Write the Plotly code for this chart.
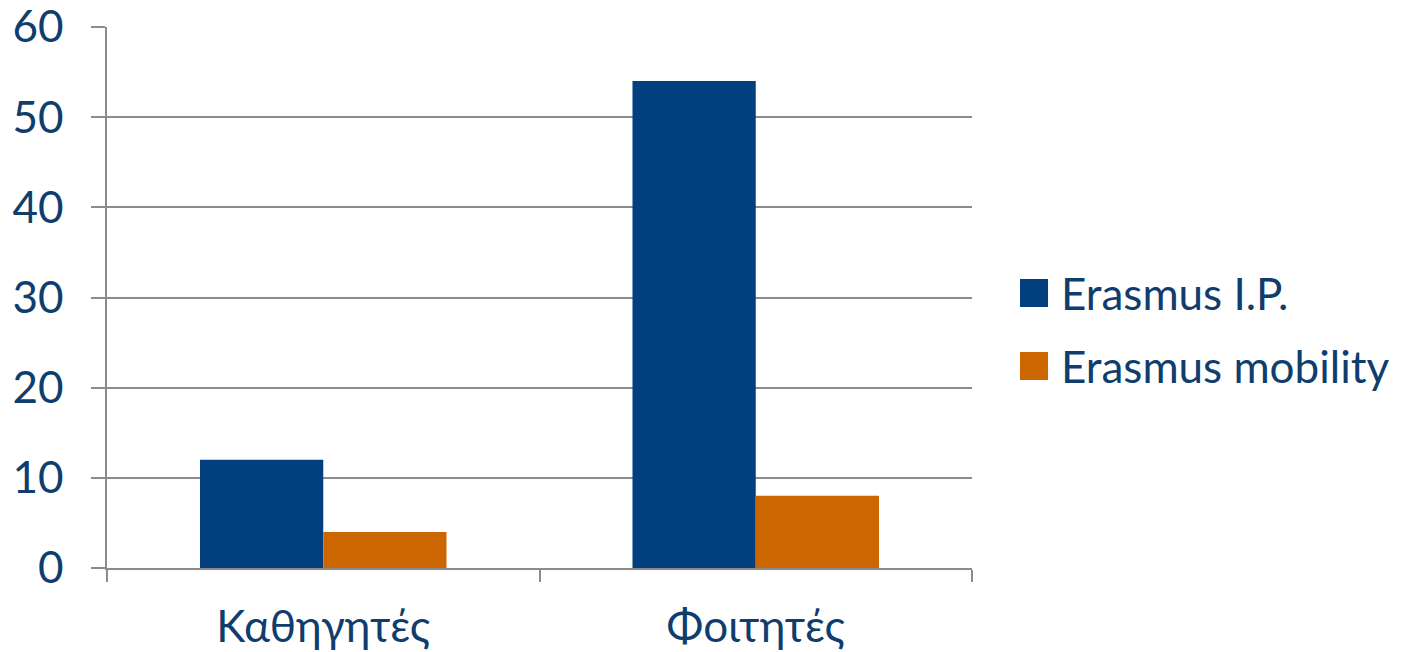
import plotly.graph_objects as go

categories = ["Καθηγητές", "Φοιτητές"]
series_names = ["Erasmus I.P.", "Erasmus mobility"]
ip_values = [12, 54]
mobility_values = [4, 8]
y_ticks = [0, 10, 20, 30, 40, 50, 60]
colors = ["#013F7F", "#CC6600"]

TEXT = "#0F3D6E"
GRID = "#8C8C8C"
FONT = "Lato"
FS = 44

fig = go.Figure()
for name, vals, col in zip(series_names, [ip_values, mobility_values], colors):
    fig.add_trace(go.Bar(x=categories, y=vals, name=name, showlegend=False,
                         marker=dict(color=col, line=dict(width=0))))

# custom legend (large square swatches + labels), in paper coordinates
legend_rows = [(0.5342, 0.4824), (0.3993, 0.3475)]
for (y_top, y_bot), name, col in zip(legend_rows, series_names, colors):
    fig.add_shape(type="rect", xref="paper", yref="paper",
                  x0=1.0555, x1=1.0879, y0=y_bot, y1=y_top,
                  fillcolor=col, line=dict(width=0))
    fig.add_annotation(xref="paper", yref="paper", x=1.100,
                       y=(y_top + y_bot) / 2, xanchor="left", yanchor="middle",
                       text=name, showarrow=False,
                       font=dict(size=FS, color=TEXT, family=FONT))

fig.update_layout(
    width=1402, height=644,
    margin=dict(l=99, r=438, t=19, b=84, autoexpand=False),
    paper_bgcolor="white", plot_bgcolor="white",
    barmode="group", bargap=0.43, bargroupgap=0,
    font=dict(family=FONT, color=TEXT, size=FS),
    showlegend=False,
)
fig.update_xaxes(showline=True, linecolor=GRID, linewidth=1.5,
                 tickson="boundaries", ticks="outside", ticklen=12,
                 tickcolor=GRID, tickwidth=1.5, automargin=False,
                 tickfont=dict(size=FS, color=TEXT), showgrid=False,
                 ticklabelstandoff=19, ticklabeloverflow="allow")
fig.update_yaxes(range=[0, 60], tickvals=y_ticks, showline=True,
                 linecolor=GRID, linewidth=1.5, ticks="outside", ticklen=14,
                 tickcolor=GRID, tickwidth=1.5, showgrid=True,
                 gridcolor=GRID, gridwidth=1.5, zeroline=False,
                 automargin=False, ticklabeloverflow="allow",
                 tickfont=dict(size=FS, color=TEXT), ticklabelstandoff=19)

fig.write_html("out.html")
